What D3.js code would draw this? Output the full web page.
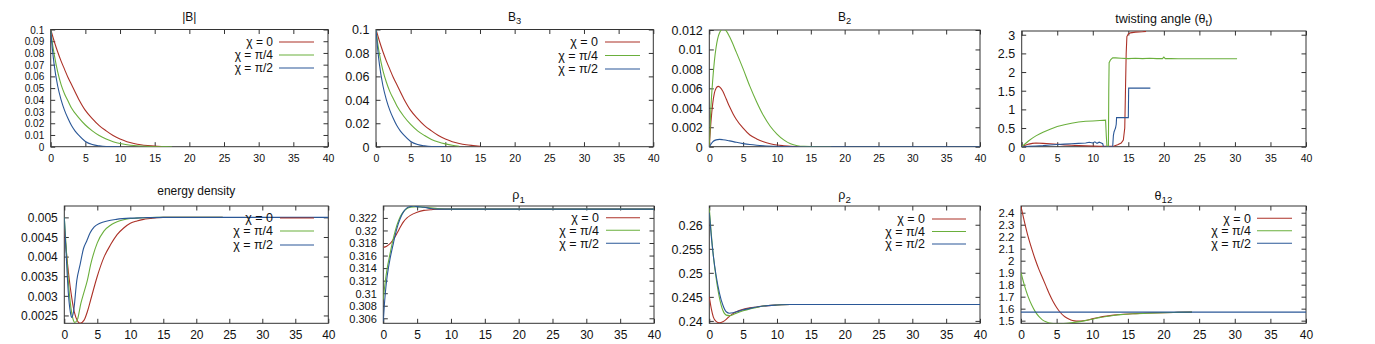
<!DOCTYPE html>
<html><head><meta charset="utf-8">
<script src="https://cdn.jsdelivr.net/npm/d3@7"></script>
<style>
body{margin:0;background:#fff}
svg{display:block}
text{font-family:"Liberation Sans",Arial,Helvetica,sans-serif;fill:#111}
</style>
</head><body>
<svg id="c" width="1375" height="344"></svg>
<script>
// ---------------- DATA ----------------
const xTickValues = [0,5,10,15,20,25,30,35,40];
const seriesLabels = ["χ = 0","χ = π/4","χ = π/2"];

// |B|
const absB0X = [0,0.5,1,1.5,2,2.5,3,4,5,6,7,8,9,10,11,12,13,14,15,16];
const absB0Y = [0.1,0.09,0.081,0.073,0.066,0.059,0.053,0.041,0.031,0.024,0.018,0.0135,0.0095,0.0065,0.0043,0.0028,0.0017,0.001,0.0005,0.0002];
const absB1X = [0,0.25,0.5,1,1.5,2,2.5,3,4,5,6,7,8,9,10,11,12,13,14,15,16,17.5];
const absB1Y = [0.1,0.088,0.079,0.064,0.053,0.045,0.039,0.033,0.025,0.0185,0.0135,0.0095,0.0065,0.0043,0.0027,0.0017,0.001,0.0006,0.0003,0.0002,0.0001,0];
const absB2X = [0,0.25,0.5,1,1.5,2,2.5,3,3.5,4,5,6,7,8,9,10];
const absB2Y = [0.1,0.083,0.07,0.052,0.04,0.031,0.024,0.018,0.0135,0.01,0.0045,0.0018,0.0007,0.0002,0.0001,0];

// B3
const b3_0X = [0,0.5,1,1.5,2,2.5,3,4,5,6,7,8,9,10,11,12,13,14,15];
const b3_0Y = [0.1,0.09,0.081,0.073,0.066,0.059,0.053,0.041,0.031,0.024,0.018,0.0135,0.0095,0.0065,0.0043,0.0028,0.0017,0.001,0.0004];
const b3_1X = [0,0.25,0.5,1,1.5,2,2.5,3,4,5,6,7,8,9,10,11,12];
const b3_1Y = [0.1,0.088,0.079,0.065,0.055,0.047,0.041,0.035,0.026,0.019,0.0135,0.0095,0.0062,0.004,0.0024,0.0012,0.0004];
const b3_2X = [0,0.25,0.5,1,1.5,2,2.5,3,3.5,4,5,6,7,8,9,10];
const b3_2Y = [0.1,0.083,0.07,0.052,0.04,0.031,0.024,0.018,0.0135,0.01,0.0045,0.0018,0.0007,0.0002,0.0001,0];

// B2
const b2_0X = [0,0.25,0.5,0.75,1,1.3,1.6,2,2.5,3,3.5,4,5,6,7,8,9,10,11,12,14,16,18];
const b2_0Y = [0,0.0026,0.0044,0.0055,0.006,0.0062,0.0061,0.0057,0.0049,0.0041,0.0034,0.0028,0.0019,0.0012,0.0008,0.0005,0.0003,0.00017,0.0001,0.00005,0.00002,0,0];
const b2_1X = [0,0.25,0.5,0.75,1,1.5,2,2.5,3,4,5,6,7,8,9,10,11,12,13,14,16,18];
const b2_1Y = [0,0.0042,0.0068,0.0088,0.0102,0.0117,0.0121,0.0119,0.0113,0.0097,0.008,0.0062,0.0046,0.0032,0.0021,0.0013,0.0007,0.0003,0.0001,0.00003,0,0];
const b2_2X = [0,0.5,1,1.5,2,3,4,5,6,7,8,10,12,15,20,30,40];
const b2_2Y = [0,0.0005,0.0007,0.00075,0.00072,0.0006,0.00045,0.00032,0.00022,0.00015,0.0001,0.00004,0.00001,0,0,0,0];

// twisting angle
const tw0X = [0,0.5,1,1.5,2,3,4,5,6,7,8,9,10,11,12,12.5,13,13.5,14,14.3,14.5,14.6,14.7,14.8,15,15.3,16,17,17.5];
const tw0Y = [0,0.04,0.07,0.09,0.1,0.09,0.08,0.065,0.05,0.04,0.03,0.022,0.015,0.01,0.01,0.012,0.02,0.05,0.1,0.18,0.5,1.5,2.5,2.95,3.02,3.05,3.07,3.08,3.09];
const tw1X = [0,0.5,1,1.5,2,2.5,3,4,5,6,7,8,9,10,11,11.8,11.9,12.0,12.2,12.25,12.3,12.5,12.8,13.2,14,15,16,17,18,19,19.8,20,20.2,21,22,24,26,28,30.3];
const tw1Y = [0,0.08,0.16,0.23,0.29,0.34,0.39,0.47,0.54,0.59,0.63,0.66,0.68,0.69,0.70,0.71,0.3,0,0,1.5,2.25,2.33,2.38,2.38,2.37,2.36,2.37,2.36,2.37,2.36,2.36,2.4,2.36,2.36,2.355,2.355,2.355,2.355,2.355];
const tw2X = [0,1,2,3,4,5,6,7,8,9,9.5,10,10.3,10.6,10.9,11.2,11.4,11.5,12,12.8,12.9,13.0,13.1,13.2,13.3,13.35,14,15,15.05,15.5,16,17,18.1];
const tw2Y = [0,0.01,0.02,0.03,0.045,0.06,0.07,0.08,0.09,0.1,0.12,0.1,0.13,0.09,0.12,0.1,0.08,0,0,0,0.3,0.4,0.45,0.5,0.6,0.78,0.78,0.78,1.57,1.57,1.57,1.57,1.57];

// energy density
const en0X = [0,0.5,1,1.5,2,2.4,3,3.5,4,5,6,7,8,9,10,11,12,13,14,15,17,20,24];
const en0Y = [0.0047,0.0038,0.0031,0.0026,0.00236,0.0023,0.00238,0.0026,0.0029,0.0035,0.00398,0.0043,0.00456,0.00473,0.00485,0.00491,0.00495,0.00497,0.00499,0.005,0.005,0.005,0.005];
const en1X = [0,0.3,0.6,1,1.3,1.6,2,2.5,3,3.5,4,5,6,7,7.5,8,9,10,11,12,14,16,20,24];
const en1Y = [0.005,0.0042,0.0034,0.0027,0.00242,0.00232,0.0024,0.0028,0.0031,0.0034,0.0038,0.00435,0.00465,0.0048,0.00485,0.00489,0.00494,0.00497,0.00498,0.00499,0.005,0.005,0.005,0.005];
const en2X = [0,0.3,0.6,0.9,1.1,1.4,1.9,2.4,2.9,3.4,3.9,4.5,5.4,6.5,7.9,10,12,15,20,30,40];
const en2Y = [0.005,0.004,0.0031,0.0026,0.00245,0.0026,0.0034,0.0038,0.0042,0.0044,0.0046,0.00475,0.00485,0.00491,0.00495,0.00498,0.00499,0.005,0.005,0.005,0.005];

// rho1
const r1_0X = [0,0.5,1,1.5,2,2.5,3,3.5,4,5,6,7,8,10,15,20,30,40];
const r1_0Y = [0.3173,0.3175,0.3179,0.3186,0.3195,0.3205,0.3214,0.322,0.3224,0.3229,0.3232,0.3233,0.3234,0.3234,0.3234,0.3234,0.3234,0.3234];
const r1_1X = [0,0.25,0.5,1,1.5,2,2.5,3,3.5,4,5,6,7,8,10,15,40];
const r1_1Y = [0.309,0.3115,0.3135,0.3163,0.3188,0.3208,0.3222,0.323,0.3235,0.3237,0.3238,0.3237,0.3236,0.3235,0.3234,0.3234,0.3234];
const r1_2X = [0,0.15,0.3,0.5,0.75,1,1.5,2,2.5,3,3.5,4,4.5,5,6,7,8,10,15,40];
const r1_2Y = [0.3055,0.308,0.31,0.3121,0.314,0.3155,0.318,0.3203,0.3219,0.323,0.3236,0.3238,0.3239,0.3238,0.3237,0.3235,0.3234,0.3234,0.3234,0.3234];

// rho2
const r2_0X = [0,0.3,0.6,1,1.5,2,2.5,3,4,5,6,7,8,10,12,15,40];
const r2_0Y = [0.245,0.2425,0.2408,0.2399,0.2396,0.2398,0.2403,0.241,0.2419,0.2424,0.2427,0.2429,0.2431,0.2433,0.2434,0.2434,0.2434];
const r2_1X = [0,0.3,0.6,1,1.5,2,2.5,3,3.5,4,5,6,7,8,10,12,40];
const r2_1Y = [0.2635,0.258,0.2535,0.249,0.2448,0.2422,0.2412,0.2411,0.2413,0.2416,0.2421,0.2425,0.2428,0.2431,0.2433,0.2434,0.2434];
const r2_2X = [0,0.3,0.6,1,1.5,2,2.5,3,3.5,4,5,6,7,8,10,12,40];
const r2_2Y = [0.2625,0.2575,0.2535,0.2495,0.2458,0.2433,0.2419,0.2416,0.2417,0.2419,0.2423,0.2426,0.2429,0.2431,0.2433,0.2434,0.2434];

// theta12
const t12_0X = [0,0.5,1,1.5,2,2.5,3,3.5,4,4.5,5,5.5,6,6.5,7,7.5,8,9,10,11,12,13,14,16,18,20,22,24];
const t12_0Y = [2.45,2.32,2.2,2.1,2.01,1.93,1.86,1.79,1.72,1.66,1.61,1.57,1.54,1.52,1.505,1.498,1.496,1.502,1.515,1.528,1.538,1.546,1.552,1.559,1.564,1.567,1.569,1.5708];
const t12_1X = [0,0.5,1,1.5,2,2.5,3,3.5,4,5,6,7,8,9,10,11,12,13,14,16,18,20,22,24];
const t12_1Y = [1.9,1.79,1.7,1.63,1.575,1.535,1.507,1.49,1.48,1.474,1.476,1.482,1.49,1.5,1.512,1.525,1.535,1.543,1.55,1.558,1.563,1.567,1.569,1.5708];
const t12_2X = [0,40];
const t12_2Y = [1.5708,1.5708];

// tick values
const ticksAbsB = [0,0.01,0.02,0.03,0.04,0.05,0.06,0.07,0.08,0.09,0.1];
const ticksB3 = [0,0.02,0.04,0.06,0.08,0.1];
const ticksB2 = [0,0.002,0.004,0.006,0.008,0.01,0.012];
const ticksTw = [0,0.5,1,1.5,2,2.5,3];
const ticksEn = [0.0025,0.003,0.0035,0.004,0.0045,0.005];
const ticksR1 = [0.306,0.308,0.31,0.312,0.314,0.316,0.318,0.32,0.322];
const ticksR2 = [0.24,0.245,0.25,0.255,0.26];
const ticksT12 = [1.5,1.6,1.7,1.8,1.9,2,2.1,2.2,2.3,2.4];

// ---------------- STYLE / LAYOUT ----------------
const colors = ["#ac3127","#6aaf3c","#2a5797"];
const svg = d3.select("#c");
const fmt = v => String(+v.toFixed(6));

const panels = [
 {title:[["|B|"]], tb:21, box:[50.7,29.5,328,146.7], yd:[0,0.1], yt:ticksAbsB, yfs:10, xfs:10.5, tfs:12,
  s:[[absB0X,absB0Y],[absB1X,absB1Y],[absB2X,absB2Y]], leg:{tr:273,l1:279,l2:314,rows:[42,55,68]}, lfs:12},
 {title:[["B"],["3","sub"]], tb:20.5, box:[376,29.5,653.3,146.7], yd:[0,0.1], yt:ticksB3, yfs:12.5, xfs:10.5, tfs:12,
  s:[[b3_0X,b3_0Y],[b3_1X,b3_1Y],[b3_2X,b3_2Y]], leg:{tr:598,l1:605,l2:640,rows:[42,55.5,69]}, lfs:12.5},
 {title:[["B"],["2","sub"]], tb:20.5, box:[709.3,30,980,146.7], yd:[0,0.012], yt:ticksB2, yfs:12.5, xfs:10.5, tfs:12,
  s:[[b2_0X,b2_0Y],[b2_1X,b2_1Y],[b2_2X,b2_2Y]], leg:null},
 {title:[["twisting angle (θ"],["t","sub"],[")"]], tb:22.5, box:[1021.7,31,1306,146.7], yd:[0,3.1], yt:ticksTw, yfs:12.5, xfs:10.5, tfs:12.5,
  s:[[tw0X,tw0Y],[tw1X,tw1Y],[tw2X,tw2Y]], leg:null, linear:true},
 {title:[["energy density"]], tb:195, box:[64.3,206,328.3,323.3], yd:[0.0023,0.00529], yt:ticksEn, yfs:12, xfs:12, tfs:12,
  s:[[en0X,en0Y],[en1X,en1Y],[en2X,en2Y]], leg:{tr:273,l1:280,l2:314,rows:[218,231,245]}, lfs:12.5},
 {title:[["ρ"],["1","sub"]], tb:199, box:[383.3,206,654,323.3], yd:[0.3052,0.3239], yt:ticksR1, yfs:11, xfs:12, tfs:12.5,
  s:[[r1_0X,r1_0Y],[r1_1X,r1_1Y],[r1_2X,r1_2Y]], leg:{tr:599,l1:606,l2:640,rows:[217.7,230.3,243.3]}, lfs:12.5},
 {title:[["ρ"],["2","sub"]], tb:199, box:[709.3,206,980,323.3], yd:[0.2395,0.2639], yt:ticksR2, yfs:12.5, xfs:12, tfs:12.5,
  s:[[r2_0X,r2_0Y],[r2_1X,r2_1Y],[r2_2X,r2_2Y]], leg:{tr:925,l1:932,l2:966,rows:[219,231.5,244]}, lfs:12.5},
 {title:[["θ"],["12","sub"]], tb:199.5, box:[1021,206,1306,323.3], yd:[1.478,2.456], yt:ticksT12, yfs:11.5, xfs:12, tfs:12.5,
  s:[[t12_0X,t12_0Y],[t12_1X,t12_1Y],[t12_2X,t12_2Y]], leg:{tr:1251,l1:1257,l2:1292,rows:[218.3,230.7,243.3]}, lfs:12.5}
];

const TL = 4.5;
panels.forEach((p,i) => {
  const [L,T,R,B] = p.box;
  const x = d3.scaleLinear().domain([0,40]).range([L,R]);
  const y = d3.scaleLinear().domain(p.yd).range([B,T]);
  const g = svg.append("g");
  const cid = "clip"+i;
  svg.append("clipPath").attr("id",cid).append("rect").attr("x",L).attr("y",T).attr("width",R-L).attr("height",B-T);

  const axB = g.append("g").attr("transform",`translate(0,${B})`)
    .call(d3.axisBottom(x).tickValues(xTickValues).tickSize(-TL).tickPadding(6).tickFormat(fmt));
  const axT = g.append("g").attr("transform",`translate(0,${T})`)
    .call(d3.axisTop(x).tickValues(xTickValues).tickSize(-TL).tickFormat(""));
  const axL = g.append("g").attr("transform",`translate(${L},0)`)
    .call(d3.axisLeft(y).tickValues(p.yt).tickSize(-TL).tickPadding(6.5).tickFormat(fmt));
  const axR = g.append("g").attr("transform",`translate(${R},0)`)
    .call(d3.axisRight(y).tickValues(p.yt).tickSize(-TL).tickFormat(""));
  [axB,axT,axL,axR].forEach(a => {
    a.select(".domain").remove();
    a.selectAll("line").attr("stroke","#333").attr("stroke-width",1);
    a.selectAll("text").attr("fill","#111").attr("font-family",'"Liberation Sans",Arial,sans-serif');
  });
  axB.selectAll("text").attr("font-size",p.xfs).attr("dy","0").attr("y",15.5);
  axL.selectAll("text").attr("font-size",p.yfs).attr("dy","0.35em");

  g.append("rect").attr("x",L).attr("y",T).attr("width",R-L).attr("height",B-T)
    .attr("fill","none").attr("stroke","#333").attr("stroke-width",1);

  const line = d3.line().x(d=>x(d[0])).y(d=>y(d[1]))
    .curve(p.linear ? d3.curveLinear : d3.curveMonotoneX);
  p.s.forEach((sr,k) => {
    const pts = sr[0].map((xv,j)=>[xv,sr[1][j]]);
    g.append("path").attr("d",line(pts)).attr("fill","none")
      .attr("stroke",colors[k]).attr("stroke-width",1.1)
      .attr("clip-path",`url(#${cid})`);
  });

  const t = g.append("text").attr("x",(L+R)/2).attr("y",p.tb).attr("text-anchor","middle").attr("font-size",p.tfs);
  let shifted = false;
  p.title.forEach(part => {
    const ts = t.append("tspan").text(part[0]);
    if (part[1]==="sub") { ts.attr("font-size",p.tfs*0.78).attr("dy", "3.5"); shifted = true; }
    else if (shifted) { ts.attr("dy","-3.5"); shifted = false; }
  });

  if (p.leg) {
    seriesLabels.forEach((lab,k) => {
      const ry = p.leg.rows[k];
      g.append("text").attr("x",p.leg.tr).attr("y",ry).attr("dy","0.35em")
        .attr("text-anchor","end").attr("font-size",p.lfs).text(lab);
      g.append("line").attr("x1",p.leg.l1).attr("x2",p.leg.l2).attr("y1",ry).attr("y2",ry)
        .attr("stroke",colors[k]).attr("stroke-width",1.1);
    });
  }
});
</script>
</body></html>
